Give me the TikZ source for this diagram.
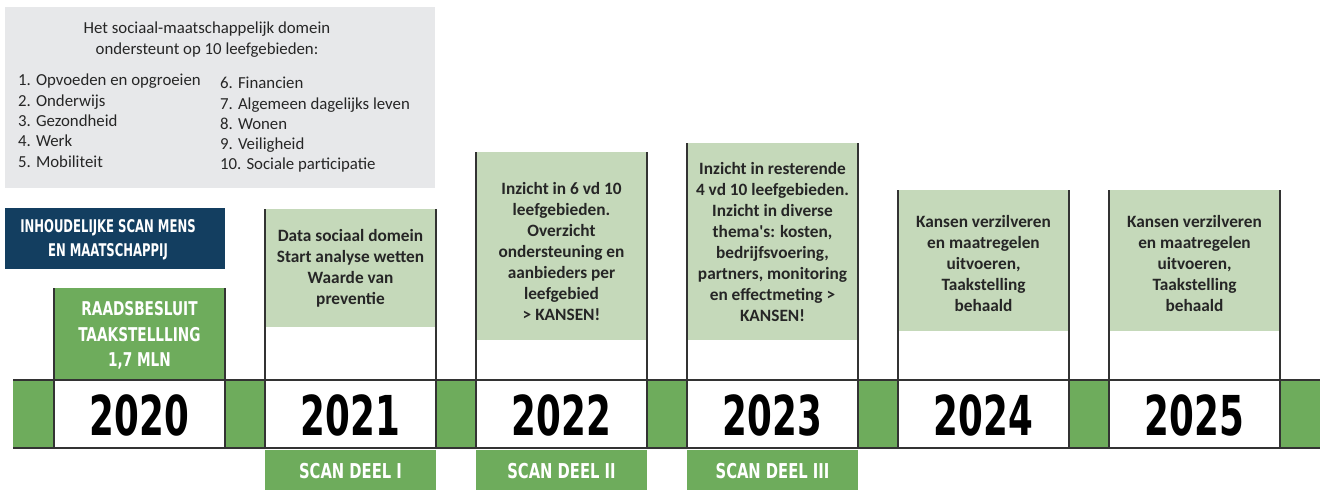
\documentclass[tikz,border=0pt]{standalone}
\usepackage{fontspec}
\setmainfont{Carlito}
\newfontfamily\carl{Carlito}
\newfontfamily\cond[FakeStretch=0.8]{DejaVu Sans Condensed Bold}
\newfontfamily\condn[FakeStretch=0.74]{DejaVu Sans Condensed Bold}
\newfontfamily\yearf[FakeStretch=0.72]{DejaVu Sans Condensed Bold}
\definecolor{tlgreen}{RGB}{110,172,92}
\definecolor{tllight}{RGB}{197,217,186}
\definecolor{tlnavy}{RGB}{19,62,96}
\definecolor{tlgray}{RGB}{231,232,234}
\definecolor{tlline}{RGB}{51,51,51}
\definecolor{tltext}{RGB}{38,38,38}
\begin{document}
\begin{tikzpicture}[x=1pt,y=-1pt,
  edge/.style={draw=tlline,line width=2.4pt},
  boxtext/.style={font=\carl\fontsize{17.3}{21}\selectfont\bfseries,text=tltext,align=center,inner sep=0pt},
  yeartext/.style={font=\fontsize{55}{55}\selectfont\yearf,text=black,inner sep=0pt},
  scantext/.style={font=\fontsize{20.5}{20.5}\selectfont\cond,text=white,inner sep=0pt},
  whitecond/.style={font=\fontsize{19}{25.5}\selectfont\cond,text=white,align=center,inner sep=0pt},
  listtext/.style={font=\fontsize{16.8}{20.3}\selectfont,text=tltext,align=left,inner sep=0pt,anchor=north west}]
\useasboundingbox (0,0) rectangle (1320,490);
\fill[white] (0,0) rectangle (1320,490);
% gray info box
\fill[tlgray] (5,7) rectangle (435,188);
\node[font=\fontsize{16.8}{21}\selectfont,text=tltext,align=center,inner sep=0pt] (title) at (207,40) {Het sociaal-maatschappelijk domein\\ondersteunt op 10 leefgebieden:};
\node[listtext] (lista) at (18,74) {1. Opvoeden en opgroeien\\2. Onderwijs\\3. Gezondheid\\4. Werk\\5. Mobiliteit};
\node[listtext] (listb) at (220,77) {6. Financien\\7. Algemeen dagelijks leven\\8. Wonen\\9. Veiligheid\\10. Sociale participatie};
% navy box
\fill[tlnavy] (5,208) rectangle (225,269);
\node[font=\fontsize{17.5}{24}\selectfont\condn,text=white,align=center,inner sep=0pt] (scanmens) at (108,240) {INHOUDELIJKE SCAN MENS\\EN MAATSCHAPPIJ};
% band
\fill[tlgreen] (13,380) rectangle (1320,448);
% column boxes above band
\fill[tlgreen] (54,288) rectangle (225,380);
\fill[tllight] (265,209) rectangle (436,327);
\fill[tllight] (476,152) rectangle (647,340);
\fill[tllight] (687,143) rectangle (858,340);
\fill[tllight] (898,190) rectangle (1069,331);
\fill[tllight] (1109,190) rectangle (1280,331);
% white year cells
\foreach \l in {54,265,476,687,898,1109} {
  \fill[white] (\l,380) rectangle ++(171,68);
}
% band lines
\draw[edge] (13,380) -- (1320,380);
\draw[edge] (13,448) -- (1320,448);
% vertical lines
\draw[edge] (54,288) -- (54,448) (225,288) -- (225,448);
\draw[edge] (265,209) -- (265,448) (436,209) -- (436,448);
\draw[edge] (476,152) -- (476,448) (647,152) -- (647,448);
\draw[edge] (687,143) -- (687,448) (858,143) -- (858,448);
\draw[edge] (898,190) -- (898,448) (1069,190) -- (1069,448);
\draw[edge] (1109,190) -- (1109,448) (1280,190) -- (1280,448);
% scan boxes
\fill[tlgreen] (265,450) rectangle (436,490);
\fill[tlgreen] (476,450) rectangle (647,490);
\fill[tlgreen] (687,450) rectangle (858,490);
% texts
\node[whitecond] (raad) at (139.5,335.5) {RAADSBESLUIT\\TAAKSTELLLING\\1,7 MLN};
\node[boxtext] (t2021) at (350.5,268) {Data sociaal domein\\Start analyse wetten\\Waarde van\\preventie};
\node[boxtext] (t2022) at (561.5,251.5) {Inzicht in 6 vd 10\\leefgebieden.\\Overzicht\\ondersteuning en\\aanbieders per\\leefgebied\\> KANSEN!};
\node[boxtext] (t2023) at (772.5,241.5) {Inzicht in resterende\\4 vd 10 leefgebieden.\\Inzicht in diverse\\thema's: kosten,\\bedrijfsvoering,\\partners, monitoring\\en effectmeting >\\KANSEN!};
\node[boxtext] (t2024) at (983.5,263) {Kansen verzilveren\\en maatregelen\\uitvoeren,\\Taakstelling\\behaald};
\node[boxtext] (t2025) at (1194.5,263) {Kansen verzilveren\\en maatregelen\\uitvoeren,\\Taakstelling\\behaald};
\node[yeartext] (y2020) at (139.5,415) {2020};
\node[yeartext] (y2021) at (350.5,415) {2021};
\node[yeartext] (y2022) at (561.5,415) {2022};
\node[yeartext] (y2023) at (772.5,415) {2023};
\node[yeartext] (y2024) at (983.5,415) {2024};
\node[yeartext] (y2025) at (1194.5,415) {2025};
\node[scantext] (s1) at (350.5,471) {SCAN DEEL I};
\node[scantext] (s2) at (561.5,471) {SCAN DEEL II};
\node[scantext] (s3) at (772.5,471) {SCAN DEEL III};
\end{tikzpicture}
\end{document}
